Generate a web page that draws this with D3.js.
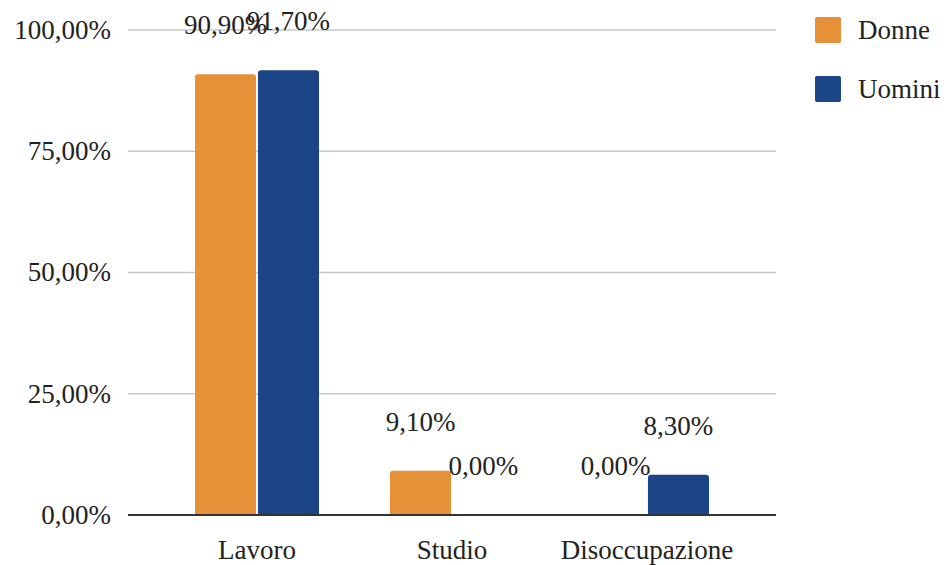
<!DOCTYPE html>
<html><head><meta charset="utf-8">
<script src="https://cdn.jsdelivr.net/npm/d3@7/dist/d3.min.js"></script>
<style>body{margin:0;background:#fff}svg{display:block}</style>
</head><body><svg id="c" width="951" height="565"></svg>
<script>
const categories = ["Lavoro", "Studio", "Disoccupazione"];
const seriesNames = ["Donne", "Uomini"];
const donne = [90.9, 9.1, 0.0];
const uomini = [91.7, 0.0, 8.3];
const yTicks = [0, 25, 50, 75, 100];
const colors = ["#e69138", "#1c4587"];

const FONT = "'Liberation Serif', 'Times New Roman', serif";
const FS = 27;
const svg = d3.select("#c").style("font-family", FONT);
const gridL = 128, gridR = 776;
const y = d3.scaleLinear().domain([0, 100]).range([515, 30]);
const x0 = d3.scaleBand().domain(categories).range([159.5, 744.5]).paddingInner(0).paddingOuter(0);
const x1 = d3.scaleBand().domain(seriesNames).range([-62, 62]).paddingInner(0.03);
const fmt = v => d3.format(".2f")(v).replace(".", ",") + "%";

svg.append("g").selectAll("line").data(yTicks.filter(t => t > 0)).join("line")
  .attr("x1", gridL).attr("x2", gridR).attr("y1", d => y(d)).attr("y2", d => y(d))
  .attr("stroke", "#c8c8c8").attr("stroke-width", 1.5);

svg.append("g").selectAll("text").data(yTicks).join("text")
  .attr("x", 111).attr("y", d => y(d)).attr("dy", "0.33em").attr("text-anchor", "end")
  .attr("font-family", FONT).attr("font-size", FS).attr("fill", "#222").text(d => fmt(d));

const data = [];
categories.forEach((c, i) => {
  data.push({cat: c, s: "Donne", v: donne[i], color: colors[0]});
  data.push({cat: c, s: "Uomini", v: uomini[i], color: colors[1]});
});

function barPath(x, yt, w, yb, r) {
  const h = yb - yt;
  if (h <= 0) return "";
  r = Math.min(r, h, w / 2);
  return `M${x},${yb}V${yt + r}Q${x},${yt} ${x + r},${yt}H${x + w - r}Q${x + w},${yt} ${x + w},${yt + r}V${yb}Z`;
}

svg.append("g").selectAll("path").data(data).join("path")
  .attr("d", d => {
    const bx = x0(d.cat) + x0.bandwidth() / 2 + x1(d.s);
    return barPath(bx, y(d.v), x1.bandwidth(), y(0), 3);
  })
  .attr("fill", d => d.color);

svg.append("line").attr("x1", gridL).attr("x2", gridR).attr("y1", y(0)).attr("y2", y(0))
  .attr("stroke", "#333").attr("stroke-width", 2);

svg.append("g").selectAll("text").data(data).join("text")
  .attr("x", d => x0(d.cat) + x0.bandwidth() / 2 + x1(d.s) + x1.bandwidth() / 2)
  .attr("y", d => y(d.v) - 40)
  .attr("text-anchor", "middle").attr("font-family", FONT).attr("font-size", FS).attr("fill", "#222")
  .text(d => fmt(d.v));

svg.append("g").selectAll("text").data(categories).join("text")
  .attr("x", d => x0(d) + x0.bandwidth() / 2).attr("y", 559)
  .attr("text-anchor", "middle").attr("font-family", FONT).attr("font-size", FS).attr("fill", "#222").text(d => d);

const lg = svg.append("g").selectAll("g").data(seriesNames).join("g")
  .attr("transform", (d, i) => `translate(815,${17 + i * 59})`);
lg.append("rect").attr("width", 26).attr("height", 26).attr("rx", 2)
  .attr("fill", (d, i) => colors[i]);
lg.append("text").attr("x", 43).attr("y", 13).attr("dy", "0.33em")
  .attr("font-family", FONT).attr("font-size", FS).attr("fill", "#222").text(d => d);
</script></body></html>
